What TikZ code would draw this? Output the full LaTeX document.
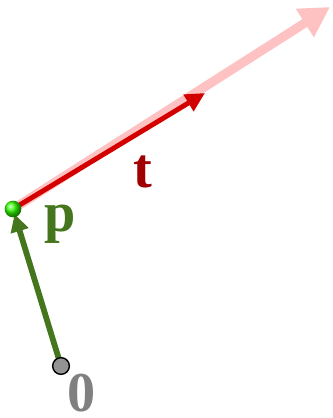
\documentclass[tikz,border=0pt]{standalone}
\usepackage{fontspec}
\setmainfont{Liberation Serif}
\usepackage{xcolor}
\usetikzlibrary{arrows.meta}

\definecolor{leaf}{HTML}{45761E}
\definecolor{crimson}{HTML}{D40000}
\definecolor{blush}{HTML}{FFC2C2}
\definecolor{wine}{HTML}{A00000}

\begin{document}
\begin{tikzpicture}[
    x=0.02cm, y=-0.02cm,
    vec/.style    = {line cap=butt},
    posvec/.style = {vec, leaf, line width=3.3pt,
                     -{Triangle[length=10pt,width=10pt]}, shorten >=3pt},
    dirvec/.style = {vec, crimson, line width=2.8pt,
                     -{Triangle[length=11pt,width=10.5pt]}},
    rayvec/.style = {vec, blush, line width=5.2pt,
                     -{Triangle[length=17pt,width=18pt]}},
    lbl/.style    = {font=\fontsize{32}{36}\selectfont\bfseries, inner sep=0pt},
    dot/.style    = {circle, minimum size=9.5pt, inner sep=0pt},
]
\useasboundingbox (0,0) rectangle (332,418);

% points
\coordinate (o) at (61,366);
\coordinate (p) at (13,209);
\coordinate (tend) at (205,93);
\coordinate (rend) at (330,7);

% ray behind, then direction, then position
\draw[rayvec] (p) -- (rend);
\draw[dirvec] (p) -- (tend);
\draw[posvec] (o) -- (p);

% end points
\node[dot, draw=black, thick, fill=gray!85] (ballO) at (o) {};
\node[dot, shading=ball, ball color=green!75!lime] (ballP) at (p) {};

% labels
\node[lbl, text=leaf] (lp) at (60,224) {p};
\node[lbl, text=wine] (lt) at (143,172) {t};
\node[lbl, text=gray] (lo) at (82,393) {0};

\end{tikzpicture}
\end{document}
